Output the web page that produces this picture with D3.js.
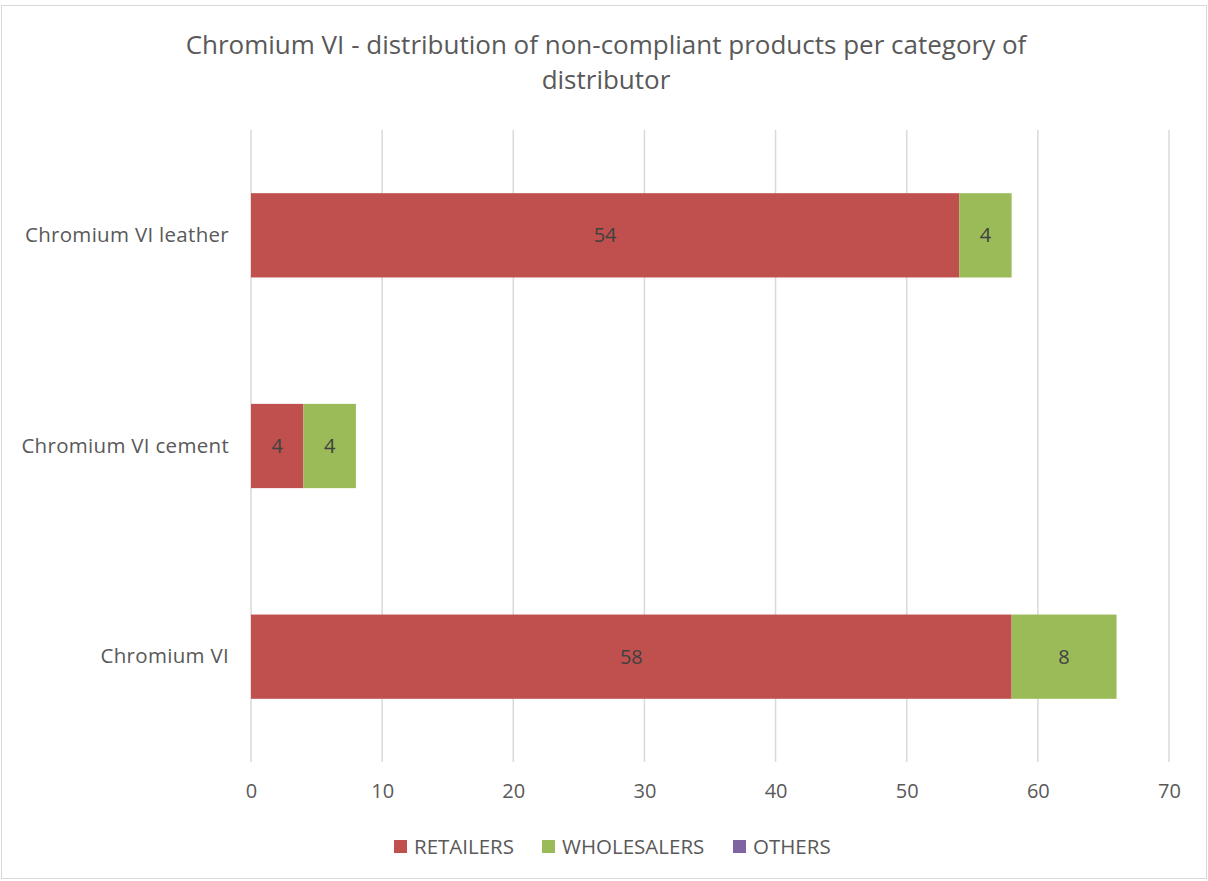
<!DOCTYPE html>
<html>
<head>
<meta charset="utf-8">
<script src="https://cdn.jsdelivr.net/npm/d3@7"></script>
<style>
  html, body { margin: 0; padding: 0; background: #fff; }
  svg { display: block; }
</style>
</head>
<body>
<svg id="chart" width="1208" height="881"></svg>
<script>
// Categories (top to bottom) and stacked series values
const categories = ["Chromium VI leather", "Chromium VI cement", "Chromium VI"];
const retailers = [54, 4, 58];
const wholesalers = [4, 4, 8];
const others = [0, 0, 0];
const seriesNames = ["RETAILERS", "WHOLESALERS", "OTHERS"];
const seriesColors = ["#C0504D", "#9BBB59", "#8064A2"];
const xTicks = [0, 10, 20, 30, 40, 50, 60, 70];

const svg = d3.select("#chart");
const W = 1208, H = 881;
const margin = { left: 251, right: 39, top: 130, bottom: 119 };
const plotW = W - margin.left - margin.right;
const plotH = H - margin.top - margin.bottom;

const textColor = "#595959";
const font = "'Open Sans', 'Noto Sans', sans-serif";

// Chart frame
svg.append("rect")
  .attr("x", 1.5).attr("y", 5.5)
  .attr("width", W - 3).attr("height", H - 8)
  .attr("fill", "#fff").attr("stroke", "#D9D9D9").attr("stroke-width", 1);

// Title
const title = svg.append("text")
  .attr("text-anchor", "middle")
  .attr("fill", textColor)
  .style("font-family", "'Liberation Sans Narrow', 'Open Sans', sans-serif")
  .style("font-size", "26px");
title.append("tspan").attr("x", 606).attr("y", 54)
  .text("Chromium VI - distribution of non-compliant products per category of");
title.append("tspan").attr("x", 606).attr("y", 89).text("distributor");

const g = svg.append("g").attr("transform", `translate(${margin.left},${margin.top})`);

const x = d3.scaleLinear().domain([0, 70]).range([0, plotW]);
const y = d3.scaleBand().domain(categories).range([0, plotH]).paddingInner(0.6).paddingOuter(0.3);

// Vertical gridlines
g.selectAll("line.grid").data(xTicks).join("line")
  .attr("class", "grid")
  .attr("x1", d => x(d)).attr("x2", d => x(d))
  .attr("y1", 0).attr("y2", plotH)
  .attr("stroke", "#D9D9D9").attr("stroke-width", 1.5);

// Stack data
const rows = categories.map((c, i) => ({
  category: c,
  RETAILERS: retailers[i],
  WHOLESALERS: wholesalers[i],
  OTHERS: others[i]
}));
const stacked = d3.stack().keys(seriesNames)(rows);

const layers = g.selectAll("g.layer").data(stacked).join("g")
  .attr("class", "layer")
  .attr("fill", (d, i) => seriesColors[i]);

layers.selectAll("rect").data(d => d).join("rect")
  .attr("x", d => x(d[0]))
  .attr("y", d => y(d.data.category))
  .attr("width", d => x(d[1]) - x(d[0]))
  .attr("height", y.bandwidth());

// Value labels inside segments
layers.selectAll("text").data(d => d.filter(s => s[1] - s[0] > 0)).join("text")
  .attr("x", d => (x(d[0]) + x(d[1])) / 2)
  .attr("y", d => y(d.data.category) + y.bandwidth() / 2)
  .attr("dy", "0.35em")
  .attr("text-anchor", "middle")
  .attr("fill", "#404040")
  .style("font-family", font)
  .style("font-size", "20px")
  .text(d => d[1] - d[0]);

// Category labels
const yAxis = d3.axisLeft(y).tickSize(0).tickPadding(22);
const yg = g.append("g").call(yAxis);
yg.select(".domain").remove();
yg.selectAll("text")
  .attr("fill", textColor)
  .style("font-family", font)
  .style("font-size", "20.5px")
  .style("letter-spacing", "0.3px");

// X axis tick labels
const xAxis = d3.axisBottom(x).tickValues(xTicks).tickSize(0).tickPadding(22);
const xg = g.append("g").attr("transform", `translate(0,${plotH})`).call(xAxis);
xg.select(".domain").remove();
xg.selectAll("text")
  .attr("fill", textColor)
  .style("font-family", font)
  .style("font-size", "20px");

// Legend
const legendX = [394, 542, 733];
const legend = svg.append("g");
seriesNames.forEach((name, i) => {
  legend.append("rect")
    .attr("x", legendX[i]).attr("y", 840)
    .attr("width", 13).attr("height", 13)
    .attr("fill", seriesColors[i]);
  legend.append("text")
    .attr("x", legendX[i] + 20).attr("y", 847)
    .attr("dy", "0.35em")
    .attr("fill", textColor)
    .style("font-family", font)
    .style("font-size", "20.5px")
    .text(name);
});
</script>
</body>
</html>
